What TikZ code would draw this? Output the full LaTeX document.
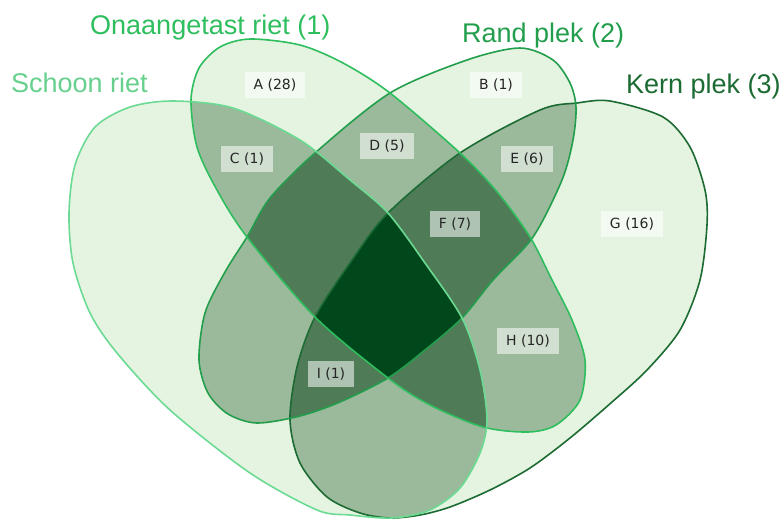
\documentclass[tikz,border=0pt]{standalone}
\usepackage{fontspec}
\setmainfont{Liberation Sans}
\newfontfamily\regionfont{DejaVu Sans}
\usepackage{tikz}

\definecolor{one}{RGB}{229,244,224}
\definecolor{two}{RGB}{155,186,155}
\definecolor{three}{RGB}{79,123,86}
\definecolor{four}{RGB}{0,71,28}
\definecolor{schooncol}{RGB}{107,219,147}
\definecolor{onaancol}{RGB}{46,190,94}
\definecolor{randcol}{RGB}{34,158,76}
\definecolor{kerncol}{RGB}{28,107,51}

% the four petals, in pixel units (y points down)
\def\schoonpath{plot[smooth cycle] coordinates {(173,101) (233,108) (300,140) (350,180) (388,213) (425,263) (462,318) (480,370) (487,420) (480,453) (460,488) (430,510) (392,518) (350,515) (317,510) (250,473) (170,410) (117,353) (90,313) (73,263) (69,213) (75,165) (95,127) (130,107)}}
\def\onaanpath{plot[smooth cycle] coordinates {(250,39) (300,45) (343,63) (390,93) (460,153) (498,193) (530,237) (552,280) (572,320) (585,360) (580,400) (556,425) (528,432) (483,427) (430,405) (388,378) (315,317) (247,237) (217,190) (197,147) (191,100) (199,68) (220,47)}}
\def\randpath{plot[smooth cycle] coordinates {(520,48) (553,60) (570,83) (576,107) (573,140) (562,180) (533,237) (493,280) (462,318) (425,350) (388,378) (340,402) (300,416) (257,423) (228,414) (208,393) (199,360) (205,313) (225,272) (247,237) (270,198) (315,153) (390,93) (467,60)}}
\def\kernpath{plot[smooth cycle] coordinates {(610,101) (663,117) (690,147) (705,190) (707,225) (700,280) (680,330) (647,370) (612,402) (570,438) (530,468) (490,490) (450,507) (420,515) (390,518) (360,513) (327,497) (300,463) (290,420) (297,367) (315,317) (350,263) (388,213) (460,153) (540,110) (577,103)}}

\begin{document}
\begin{tikzpicture}[x=1pt, y=-1pt,
    title/.style={anchor=base west, inner sep=0pt, font=\fontsize{27}{32}\selectfont},
    lbl/.style={fill=white, fill opacity=0.55, text opacity=1, text=black!85,
        inner xsep=9pt, inner ysep=0pt, minimum height=26pt,
        font=\regionfont\fontsize{14}{16}\selectfont},
    rim/.style={line width=1.6pt}]
    \useasboundingbox (0,0) rectangle (782,520);

    % one set
    \fill[one] \schoonpath;
    \fill[one] \onaanpath;
    \fill[one] \randpath;
    \fill[one] \kernpath;

    % two sets
    \begin{scope}
        \clip \schoonpath;
        \fill[two] \onaanpath;
        \fill[two] \randpath;
        \fill[two] \kernpath;
    \end{scope}
    \begin{scope}
        \clip \onaanpath;
        \fill[two] \randpath;
        \fill[two] \kernpath;
    \end{scope}
    \begin{scope}
        \clip \randpath;
        \fill[two] \kernpath;
    \end{scope}

    % three sets
    \begin{scope}
        \clip \schoonpath;
        \clip \onaanpath;
        \fill[three] \randpath;
        \fill[three] \kernpath;
    \end{scope}
    \begin{scope}
        \clip \schoonpath;
        \clip \randpath;
        \fill[three] \kernpath;
    \end{scope}
    \begin{scope}
        \clip \onaanpath;
        \clip \randpath;
        \fill[three] \kernpath;
    \end{scope}

    % all four
    \begin{scope}
        \clip \schoonpath;
        \clip \onaanpath;
        \clip \randpath;
        \fill[four] \kernpath;
    \end{scope}

    \draw[rim, kerncol] \kernpath;
    \draw[rim, randcol] \randpath;
    \draw[rim, onaancol] \onaanpath;
    \draw[rim, schooncol] \schoonpath;

    \node[title, text=schooncol!95!black] (schoon) at (11,92) {Schoon riet};
    \node[title, text=onaancol] (onaan) at (90,34) {Onaangetast riet (1)};
    \node[title, text=randcol] (rand) at (462,42) {Rand plek (2)};
    \node[title, text=kerncol] (kern) at (626,93) {Kern plek (3)};

    \node[lbl] (labA) at (275,85) {A (28)};
    \node[lbl] (labB) at (496,85) {B (1)};
    \node[lbl] (labC) at (247,159) {C (1)};
    \node[lbl] (labD) at (387,146) {D (5)};
    \node[lbl] (labE) at (527,159) {E (6)};
    \node[lbl] (labF) at (455,224) {F (7)};
    \node[lbl] (labG) at (632,224) {G (16)};
    \node[lbl] (labH) at (528,341) {H (10)};
    \node[lbl] (labI) at (331,374) {I (1)};
\end{tikzpicture}
\end{document}
